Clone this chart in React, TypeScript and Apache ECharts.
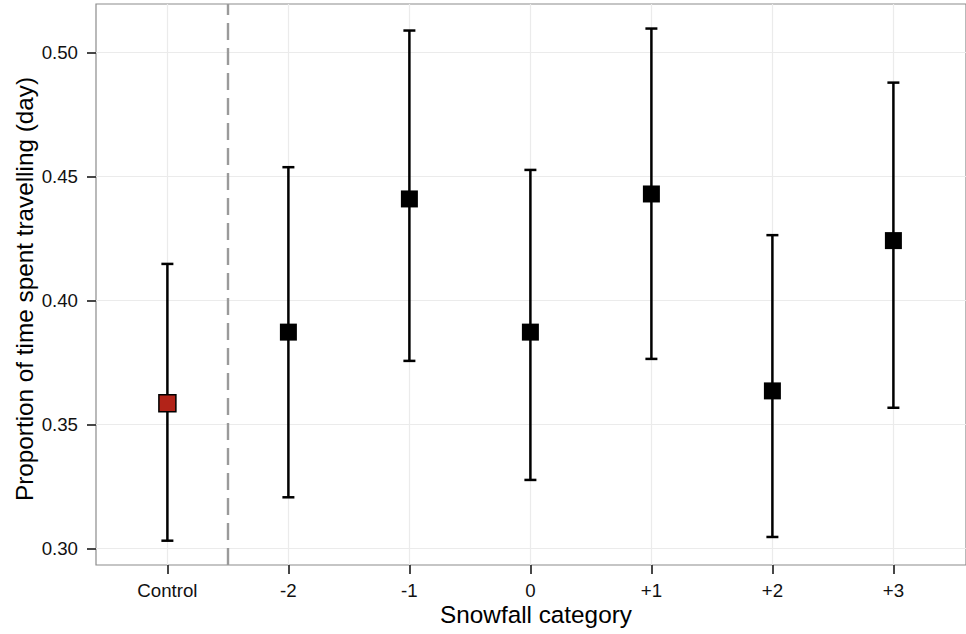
import React, { useEffect, useRef } from "react";
import * as echarts from "echarts";

const categories = ["Control", "-2", "-1", "0", "+1", "+2", "+3"];
const means = [0.3586, 0.3873, 0.441, 0.3873, 0.443, 0.3636, 0.4242];
const upper = [0.4148, 0.4538, 0.5089, 0.4527, 0.5097, 0.4264, 0.4879];
const lower = [0.3032, 0.3207, 0.3757, 0.3277, 0.3765, 0.3047, 0.3568];
const yTicks = [0.3, 0.35, 0.4, 0.45, 0.5];
const xTicks = [0, 1, 2, 3, 4, 5, 6];
const controlColor = "#b22318";
const FONT = "'Liberation Sans', Arial, Helvetica, sans-serif";

export default function App() {
  const ref = useRef<HTMLDivElement>(null);
  useEffect(() => {
    if (!ref.current) return;
    const chart = echarts.init(ref.current, undefined, { renderer: "svg" });
    const errData = categories.map((_, i) => [i, lower[i], upper[i]]);
    const ptData = categories.map((_, i) => ({
      value: [i, means[i]],
      itemStyle:
        i === 0
          ? { color: controlColor, borderColor: "#000", borderWidth: 1.5, opacity: 1 }
          : { color: "#000", opacity: 1 },
    }));
    chart.setOption({
      animation: false,
      backgroundColor: "#fff",
      textStyle: { fontFamily: FONT },
      grid: {
        show: true,
        left: 96,
        top: 4,
        width: 879.6,
        height: 561,
        borderColor: "#8c8c8c",
        borderWidth: 1.2,
        backgroundColor: "#fff",
      },
      xAxis: {
        type: "value",
        min: -0.59,
        max: 6.6,
        axisLine: { show: false, onZero: false },
        axisTick: {
          show: true,
          customValues: xTicks,
          length: 9,
          lineStyle: { color: "#333", width: 1.8 },
        },
        axisLabel: {
          customValues: xTicks,
          formatter: (v: number) => categories[Math.round(v)] ?? "",
          fontSize: 18.7,
          color: "#111",
          margin: 16,
          fontFamily: FONT,
        },
        splitLine: { show: true, lineStyle: { color: "#ebebeb", width: 1.2 } },
      },
      yAxis: {
        type: "value",
        min: 0.2934,
        max: 0.5196,
        axisLine: { show: false, onZero: false },
        axisTick: {
          show: true,
          customValues: yTicks,
          length: 9,
          lineStyle: { color: "#333", width: 1.8 },
        },
        axisLabel: {
          customValues: yTicks,
          formatter: (v: number) => v.toFixed(2),
          fontSize: 18.7,
          color: "#111",
          margin: 18,
          fontFamily: FONT,
        },
        splitLine: { show: true, lineStyle: { color: "#ebebeb", width: 1.2 } },
      },
      graphic: [
        {
          type: "text",
          x: 536,
          y: 614,
          style: {
            text: "Snowfall category",
            fontSize: 24.3,
            fontFamily: FONT,
            fill: "#000",
            textAlign: "center",
            textVerticalAlign: "middle",
          },
        },
        {
          type: "text",
          x: 24,
          y: 289,
          rotation: Math.PI / 2,
          style: {
            text: "Proportion of time spent travelling (day)",
            fontSize: 24.3,
            fontFamily: FONT,
            fill: "#000",
            textAlign: "center",
            textVerticalAlign: "middle",
          },
        },
      ],
      series: [
        {
          type: "custom",
          z: 2,
          data: errData,
          renderItem: (params: any, api: any) => {
            const x = api.value(0);
            const pLo = api.coord([x, api.value(1)]);
            const pHi = api.coord([x, api.value(2)]);
            const hw = 6;
            const style = { stroke: "#000", lineWidth: 2.5 };
            return {
              type: "group",
              children: [
                { type: "line", shape: { x1: pLo[0], y1: pLo[1], x2: pHi[0], y2: pHi[1] }, style },
                { type: "line", shape: { x1: pHi[0] - hw, y1: pHi[1], x2: pHi[0] + hw, y2: pHi[1] }, style },
                { type: "line", shape: { x1: pLo[0] - hw, y1: pLo[1], x2: pLo[0] + hw, y2: pLo[1] }, style },
              ],
            };
          },
          markLine: {
            silent: true,
            symbol: ["none", "none"],
            label: { show: false },
            emphasis: { disabled: true },
            lineStyle: { color: "#9a9a9a", type: [17, 8], width: 2.4, opacity: 1 },
            data: [{ xAxis: 0.5 }],
          },
        },
        {
          type: "scatter",
          z: 3,
          symbol: "rect",
          symbolSize: 17,
          itemStyle: { opacity: 1 },
          data: ptData,
        },
      ],
    });
    return () => chart.dispose();
  }, []);
  return (
    <div
      ref={ref}
      style={{ position: "absolute", left: 0, top: 0, width: 966, height: 634 }}
    />
  );
}
